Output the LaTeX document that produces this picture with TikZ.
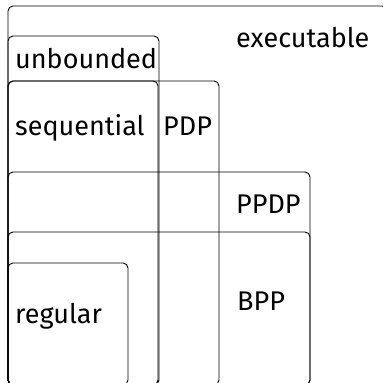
\documentclass[tikz,border=0pt]{standalone}
\usepackage{fontspec}
\setmainfont{Fira Sans}
\usepackage{tikz}

\begin{document}
\begin{tikzpicture}[x=1pt,y=-1pt]
        \tikzset{setbox/.style = {draw=black,line width=0.9pt,rounded corners=5pt}}
        \tikzset{setname/.style = {anchor=base west,inner sep=0pt,font=\fontsize{27}{30}\selectfont}}
        \useasboundingbox (0,0) rectangle (383,383);
        \clip (0,0) rectangle (383,383);
        % sets
        \draw[setbox] (8,6) rectangle (387,385);
        \draw[setbox] (8,36) rectangle (159,385);
        \draw[setbox] (8,81) rectangle (219,385);
        \draw[setbox] (8,81) rectangle (158,385);
        \draw[setbox] (8,172) rectangle (310,385);
        \draw[setbox] (8,232) rectangle (310,385);
        \draw[setbox] (8,263) rectangle (128,385);
        % names
        \node[setname] (exec) at (236,47) {executable};
        \node[setname] (unb) at (15,68) {unbounded};
        \node[setname] (seq) at (15,135) {sequential};
        \node[setname] (pdp) at (163,135) {PDP};
        \node[setname] (ppdp) at (236,213) {PPDP};
        \node[setname] (bpp) at (237,310) {BPP};
        \node[setname] (reg) at (15,323) {regular};
\end{tikzpicture}
\end{document}
